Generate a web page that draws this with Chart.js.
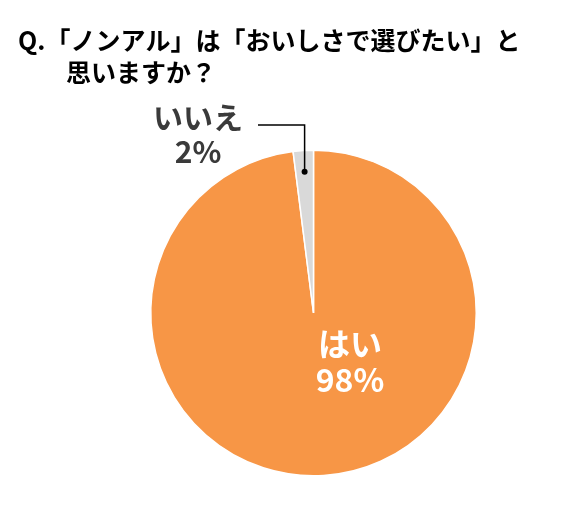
<!DOCTYPE html>
<html><head><meta charset="utf-8">
<script src="https://cdn.jsdelivr.net/npm/chart.js@4"></script>
<style>html,body{margin:0;padding:0;background:#fff}#w{width:573px;height:506px}</style>
</head><body><div id="w"><canvas id="c"></canvas></div>
<script>
const categories = ["はい", "いいえ"];
const values = [98, 2];
const colors = ["#F79646", "#D9D9D9"];
const titleLines = ["Q.「ノンアル」は「おいしさで選びたい」と", "思いますか？"];
const FONT = '"Noto Sans CJK JP", sans-serif';
const overlay = {
  id: 'overlay',
  afterDraw(chart) {
    const ctx = chart.ctx;
    ctx.save();
    ctx.fillStyle = '#000';
    ctx.font = 'bold 25px ' + FONT;
    ctx.textBaseline = 'middle';
    ctx.fillText(titleLines[0], 18, 40);
    ctx.fillText(titleLines[1], 66, 72);
    const arcs = chart.getDatasetMeta(0).data;
    ctx.fillStyle = '#fff';
    ctx.font = 'bold 32px ' + FONT;
    ctx.textAlign = 'center';
    ctx.fillText(categories[0], 350, 344);
    ctx.fillText(values[0] + '%', 350, 380);
    const a1 = arcs[1];
    const mid = (a1.startAngle + a1.endAngle) / 2;
    const px = a1.x + Math.cos(mid) * a1.outerRadius * 0.87;
    const py = a1.y + Math.sin(mid) * a1.outerRadius * 0.87;
    ctx.strokeStyle = '#000'; ctx.lineWidth = 1.5;
    ctx.beginPath(); ctx.moveTo(258, 125); ctx.lineTo(px, 125); ctx.lineTo(px, py); ctx.stroke();
    ctx.fillStyle = '#000';
    ctx.beginPath(); ctx.arc(px, py, 3, 0, Math.PI * 2); ctx.fill();
    ctx.fillStyle = '#3a3a3a';
    ctx.font = 'bold 30px ' + FONT;
    ctx.fillText(categories[1], 198, 118);
    ctx.fillText(values[1] + '%', 198, 152);
    ctx.restore();
  }
};
new Chart(document.getElementById('c'), {
  type: 'pie',
  data: { labels: categories, datasets: [{ data: values, backgroundColor: colors, borderColor: '#fff', borderWidth: 1.5 }] },
  options: {
    responsive: true, maintainAspectRatio: false, animation: false,
    layout: { padding: { top: 149, bottom: 29, left: 150, right: 96 } },
    plugins: { legend: { display: false }, tooltip: { enabled: false } }
  },
  plugins: [overlay]
});
</script></body></html>
